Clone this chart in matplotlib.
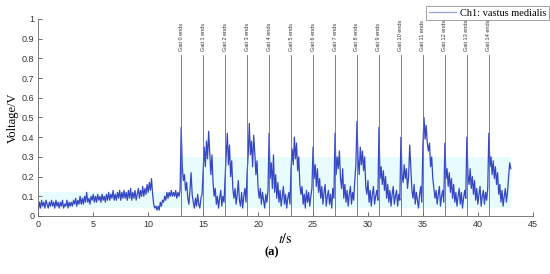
import matplotlib
matplotlib.use("Agg")
import matplotlib.pyplot as plt
import numpy as np

plt.rcParams['mathtext.fontset'] = 'stix'

dt = 0.1
baseline = [
    0.03, 0.07, 0.04, 0.08, 0.05, 0.07, 0.04, 0.08, 0.06, 0.04, 0.07, 0.05, 0.08, 0.05, 0.07, 0.04, 0.08, 0.05, 0.07, 0.04,
    0.07, 0.05, 0.08, 0.04, 0.06, 0.05, 0.08, 0.04, 0.07, 0.05, 0.07, 0.05, 0.08, 0.06, 0.09, 0.05, 0.08, 0.06, 0.10, 0.06,
    0.09, 0.06, 0.10, 0.07, 0.12, 0.07, 0.09, 0.06, 0.10, 0.08, 0.11, 0.07, 0.10, 0.07, 0.11, 0.08, 0.10, 0.07, 0.11, 0.08,
    0.10, 0.07, 0.11, 0.08, 0.12, 0.08, 0.11, 0.09, 0.13, 0.08, 0.11, 0.08, 0.12, 0.09, 0.13, 0.08, 0.12, 0.09, 0.13, 0.09,
    0.12, 0.08, 0.13, 0.09, 0.14, 0.08, 0.12, 0.09, 0.13, 0.08, 0.11, 0.14, 0.09, 0.13, 0.10, 0.15, 0.10, 0.14, 0.11, 0.16,
    0.12, 0.17, 0.13, 0.19, 0.11, 0.06, 0.04, 0.05, 0.03, 0.05, 0.03, 0.07, 0.05, 0.08, 0.07, 0.10, 0.08, 0.12, 0.09, 0.12,
    0.10, 0.13, 0.10, 0.12, 0.10, 0.13, 0.09, 0.12, 0.10, 0.13,
]
# one 2 s cycle per gait, starting at 13 s
gait_cycles = [
    [0.45, 0.25, 0.18, 0.21, 0.13, 0.17, 0.09, 0.06, 0.13, 0.22, 0.11, 0.07, 0.04, 0.09, 0.05, 0.11, 0.06, 0.04, 0.09, 0.11],
    [0.23, 0.35, 0.25, 0.38, 0.29, 0.43, 0.32, 0.21, 0.31, 0.17, 0.10, 0.14, 0.06, 0.10, 0.04, 0.09, 0.13, 0.05, 0.10, 0.07],
    [0.20, 0.31, 0.42, 0.26, 0.36, 0.20, 0.28, 0.14, 0.09, 0.14, 0.06, 0.11, 0.18, 0.08, 0.05, 0.12, 0.04, 0.10, 0.14, 0.07],
    [0.22, 0.31, 0.47, 0.31, 0.38, 0.25, 0.41, 0.32, 0.21, 0.28, 0.14, 0.09, 0.14, 0.06, 0.12, 0.08, 0.04, 0.11, 0.07, 0.13],
    [0.42, 0.19, 0.27, 0.14, 0.31, 0.12, 0.21, 0.09, 0.17, 0.07, 0.13, 0.05, 0.10, 0.15, 0.06, 0.11, 0.04, 0.09, 0.12, 0.06],
    [0.24, 0.34, 0.26, 0.40, 0.29, 0.37, 0.23, 0.30, 0.16, 0.11, 0.15, 0.06, 0.11, 0.04, 0.13, 0.07, 0.12, 0.05, 0.10, 0.14],
    [0.35, 0.19, 0.26, 0.15, 0.24, 0.12, 0.19, 0.09, 0.15, 0.06, 0.12, 0.16, 0.05, 0.10, 0.13, 0.06, 0.11, 0.04, 0.14, 0.09],
    [0.42, 0.21, 0.30, 0.24, 0.33, 0.19, 0.14, 0.24, 0.09, 0.16, 0.07, 0.13, 0.05, 0.11, 0.15, 0.06, 0.12, 0.08, 0.18, 0.26],
    [0.48, 0.29, 0.21, 0.35, 0.26, 0.33, 0.23, 0.30, 0.15, 0.11, 0.18, 0.07, 0.13, 0.05, 0.11, 0.15, 0.06, 0.10, 0.13, 0.08],
    [0.45, 0.19, 0.25, 0.16, 0.23, 0.13, 0.20, 0.09, 0.16, 0.07, 0.13, 0.05, 0.11, 0.15, 0.06, 0.10, 0.13, 0.05, 0.11, 0.08],
    [0.40, 0.21, 0.17, 0.26, 0.19, 0.24, 0.14, 0.20, 0.36, 0.24, 0.13, 0.09, 0.16, 0.06, 0.12, 0.08, 0.04, 0.11, 0.15, 0.07],
    [0.36, 0.50, 0.39, 0.46, 0.37, 0.33, 0.37, 0.25, 0.30, 0.19, 0.14, 0.09, 0.13, 0.06, 0.11, 0.15, 0.05, 0.10, 0.13, 0.07],
    [0.37, 0.19, 0.24, 0.15, 0.22, 0.12, 0.19, 0.09, 0.16, 0.07, 0.12, 0.05, 0.10, 0.14, 0.06, 0.12, 0.04, 0.09, 0.13, 0.09],
    [0.40, 0.21, 0.16, 0.24, 0.14, 0.20, 0.11, 0.18, 0.08, 0.14, 0.06, 0.11, 0.15, 0.05, 0.10, 0.13, 0.06, 0.12, 0.08, 0.14],
    [0.42, 0.25, 0.30, 0.21, 0.28, 0.19, 0.25, 0.16, 0.22, 0.11, 0.16, 0.07, 0.13, 0.05, 0.10, 0.14, 0.07, 0.12, 0.20, 0.27],
]
last_value = [0.24]

gait_times = [13, 15, 17, 19, 21, 23, 25, 27, 29, 31, 33, 35, 37, 39, 41]
gait_labels = ['Gait %d ends' % i for i in range(len(gait_times))]

# faint cyan band behind the trace
band_t = [0, 12.9, 12.9, 43]
band_lo = [0.04, 0.04, 0.04, 0.04]
band_hi = [0.12, 0.12, 0.30, 0.30]

volt = np.array(baseline + sum(gait_cycles, []) + last_value)
t = np.arange(len(volt)) * dt

fig = plt.figure(figsize=(5.5, 2.74), dpi=100)
ax = fig.add_axes([0.0697, 0.2117, 0.899, 0.719])

ax.fill_between(band_t, band_lo, band_hi, color='#e8fbfd', lw=0, zorder=0)
line, = ax.plot(t, volt, '-', c='#3548c2', lw=0.9, zorder=2,
                label='Ch1: vastus medialis')

for gt, lab in zip(gait_times, gait_labels):
    ax.plot([gt, gt], [0, 0.817], c='#6a6a6a', lw=0.6, zorder=3)
    ax.text(gt, 0.838, lab, rotation=90, ha='center', va='bottom',
            fontsize=4.0, color='#333333', family='Liberation Sans')

ax.set_xlim(0, 45)
ax.set_ylim(0, 1)
ax.set_xticks(np.arange(0, 46, 5))
ax.set_yticks(np.arange(0, 1.01, 0.1))
ax.set_yticklabels(['0', '0.1', '0.2', '0.3', '0.4', '0.5', '0.6', '0.7', '0.8', '0.9', '1'])
ax.tick_params(direction='in', length=3, width=0.6, labelsize=6.5,
               colors='#555555', labelcolor='#333333', pad=3)
for lbl in ax.get_xticklabels() + ax.get_yticklabels():
    lbl.set_family('Liberation Sans')
for s in ['top', 'right']:
    ax.spines[s].set_visible(False)
for s in ['left', 'bottom']:
    ax.spines[s].set_color('#666666')
    ax.spines[s].set_linewidth(0.6)

ax.set_ylabel('Voltage/V', family='Liberation Serif', fontsize=9, labelpad=2)
ax.set_xlabel(r'$t/\mathrm{s}$', fontsize=10, labelpad=2)

leg = ax.legend(loc='upper right', bbox_to_anchor=(549 / 550, 1 - 6 / 274),
                bbox_transform=fig.transFigure, fancybox=False,
                prop={'family': 'Liberation Serif', 'size': 7.5},
                handlelength=2.6, borderpad=0.25, handletextpad=0.4,
                borderaxespad=0)
leg.get_frame().set_edgecolor('#777777')
leg.get_frame().set_linewidth(0.6)
leg.get_lines()[0].set_color('#9aa3dc')

fig.text(272 / 550, 1 - 252 / 274, '(a)', ha='center', va='center',
         fontsize=9, fontweight='bold', family='Liberation Serif')

fig.savefig('out.png', dpi=100)
